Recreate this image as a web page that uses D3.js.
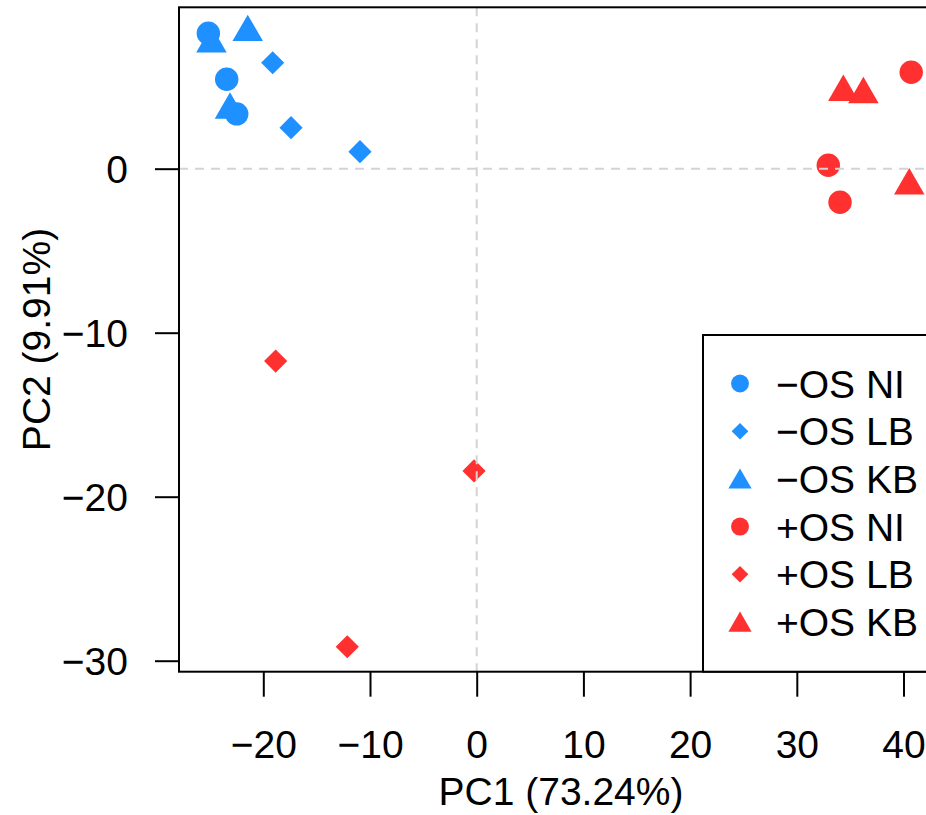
<!doctype html>
<html>
<head>
<meta charset="utf8">
<script src="https://d3js.org/d3.v7.min.js"></script>
<style>
  body { margin: 0; background: #fff; }
  text { font-family: "Liberation Sans", Arial, Helvetica, sans-serif; fill: #000; }
</style>
</head>
<body>
<svg width="926" height="815"></svg>
<script>
// groups and PCA scores
var groups = ["\u2212OS NI", "\u2212OS LB", "\u2212OS KB", "+OS NI", "+OS LB", "+OS KB"];
var sampleGroup = [0, 0, 0, 1, 1, 1, 2, 2, 2, 3, 3, 3, 4, 4, 4, 5, 5, 5];
var pc1 = [-25.15, -23.43, -22.49, -19.12, -17.40, -10.94, -24.86, -21.46, -23.12,
           40.72, 32.95, 34.05, -18.84, -0.25, -12.13, 34.36, 36.24, 40.54];
var pc2 = [8.26, 5.45, 3.34, 6.46, 2.50, 1.04, 7.62, 8.32, 3.58,
           5.88, 0.21, -2.05, -11.73, -18.43, -29.15, 4.67, 4.53, -1.03];
var xTicks = [-20, -10, 0, 10, 20, 30, 40];
var yTicks = [-30, -20, -10, 0];
var xLabel = "PC1 (73.24%)";
var yLabel = "PC2 (9.91%)";

var colour = ["#1E90FF", "#1E90FF", "#1E90FF", "#FF3030", "#FF3030", "#FF3030"];
var shape = ["circle", "diamond", "triangle", "circle", "diamond", "triangle"];

var svg = d3.select("svg");
// plot box (right side runs past the window, as in the original)
var pLeft = 179, pRight = 943, pTop = 7.3, pBottom = 671.7;

var x = d3.scaleLinear().domain([-27.9, 43.7]).range([pLeft, pRight]);
var y = d3.scaleLinear().domain([-30.67, 9.84]).range([pBottom, pTop]);

// marker path, like R pch 16 / 18 / 17
function marker(kind, s) {
    var p = d3.path();
    if (kind == "circle") {
        p.arc(0, 0, s, 0, 2 * Math.PI);
    } else if (kind == "diamond") {
        p.moveTo(0, -s); p.lineTo(s, 0); p.lineTo(0, s); p.lineTo(-s, 0); p.closePath();
    } else {
        p.moveTo(0, -s); p.lineTo(s * 0.866, s / 2); p.lineTo(-s * 0.866, s / 2); p.closePath();
    }
    return p.toString();
}
var bigSize = {circle: 11.7, diamond: 11.6, triangle: 17.6};
var keySize = {circle: 9, diamond: 8.3, triangle: 13.4};

var idx = d3.range(pc1.length);

svg.append("g")
   .selectAll("path")
   .data(idx)
   .enter().append("path")
   .attr("transform", function(i) { return "translate(" + x(pc1[i]) + "," + y(pc2[i]) + ")"; })
   .attr("d", function(i) { return marker(shape[sampleGroup[i]], bigSize[shape[sampleGroup[i]]]); })
   .attr("fill", function(i) { return colour[sampleGroup[i]]; });

// dashed zero lines (drawn over the points, as in the original)
svg.append("line")
   .attr("x1", x(0)).attr("x2", x(0)).attr("y1", pTop).attr("y2", pBottom)
   .attr("stroke", "#d3d3d3").attr("stroke-width", 2).attr("stroke-dasharray", "9,7");
svg.append("line")
   .attr("x1", pLeft).attr("x2", pRight).attr("y1", y(0)).attr("y2", y(0))
   .attr("stroke", "#d3d3d3").attr("stroke-width", 2).attr("stroke-dasharray", "9,7");

// x axis
var gx = svg.append("g")
    .attr("transform", "translate(0," + pBottom + ")")
    .call(d3.axisBottom(x).tickValues(xTicks).tickSize(25).tickSizeOuter(0)
          .tickFormat(function(d) { return d < 0 ? "\u2212" + (-d) : d; }));
gx.select(".domain").remove();
gx.selectAll("line").attr("stroke", "#000").attr("stroke-width", 2);
gx.selectAll("text")
  .attr("y", 758 - pBottom).attr("dy", 0)
  .attr("font-size", "39px").attr("font-family", "Liberation Sans, Arial, sans-serif");

// y axis
var gy = svg.append("g")
    .attr("transform", "translate(" + pLeft + ",0)")
    .call(d3.axisLeft(y).tickValues(yTicks).tickSize(24).tickSizeOuter(0)
          .tickFormat(function(d) { return d < 0 ? "\u2212" + (-d) : d; }));
gy.select(".domain").remove();
gy.selectAll("line").attr("stroke", "#000").attr("stroke-width", 2);
gy.selectAll("text")
  .attr("x", 128 - pLeft).attr("dy", "0.36em")
  .attr("font-size", "39px").attr("font-family", "Liberation Sans, Arial, sans-serif");

// plot frame
svg.append("rect")
   .attr("x", pLeft).attr("y", pTop)
   .attr("width", pRight - pLeft).attr("height", pBottom - pTop)
   .attr("fill", "none").attr("stroke", "#000").attr("stroke-width", 2);

// axis titles
svg.append("text")
   .attr("x", (pLeft + pRight) / 2).attr("y", 805)
   .attr("text-anchor", "middle").attr("font-size", "39px")
   .text(xLabel);
svg.append("text")
   .attr("transform", "translate(50," + (pTop + pBottom) / 2 + ") rotate(-90)")
   .attr("text-anchor", "middle").attr("font-size", "39px")
   .text(yLabel);

// legend
var lg = svg.append("g");
lg.append("rect")
  .attr("x", 703).attr("y", 335)
  .attr("width", pRight - 703).attr("height", pBottom - 335)
  .attr("fill", "#fff").attr("stroke", "#000").attr("stroke-width", 2);

var rows = lg.selectAll("g.row")
    .data(groups)
    .enter().append("g")
    .attr("class", "row")
    .attr("transform", function(d, i) { return "translate(740," + (383.5 + i * 47.7) + ")"; });
rows.append("path")
    .attr("d", function(d, i) { return marker(shape[i], keySize[shape[i]]); })
    .attr("transform", function(d, i) { return shape[i] == "triangle" ? "translate(0,3)" : null; })
    .attr("fill", function(d, i) { return colour[i]; });
rows.append("text")
    .attr("x", 36).attr("dy", "0.36em")
    .attr("font-size", "39px")
    .text(function(d) { return d; });
</script>
</body>
</html>
